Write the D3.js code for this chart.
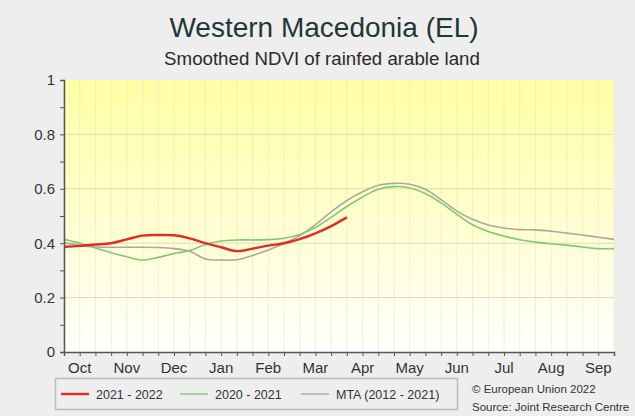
<!DOCTYPE html>
<html><head><meta charset="utf-8">
<script src="https://cdn.jsdelivr.net/npm/d3@7"></script>
<style>
html,body{margin:0;padding:0;background:#eeeeee;}
svg{display:block;font-family:"Liberation Sans",Arial,sans-serif;}
</style></head>
<body>
<svg id="chart" width="635" height="416"></svg>
<script>
const months = ["Oct","Nov","Dec","Jan","Feb","Mar","Apr","May","Jun","Jul","Aug","Sep"];
const yTicks = [0,0.2,0.4,0.6,0.8,1];
const s2122 = [0.387,0.390,0.395,0.400,0.414,0.428,0.430,0.429,0.418,0.400,0.385,0.371,0.380,0.391,0.400,0.415,0.436,0.463,0.495];
const s2021 = [0.414,0.400,0.382,0.365,0.350,0.338,0.348,0.362,0.373,0.395,0.408,0.412,0.412,0.413,0.418,0.432,0.458,0.495,0.535,0.570,0.598,0.608,0.603,0.583,0.548,0.506,0.468,0.443,0.426,0.413,0.404,0.398,0.393,0.386,0.380,0.380];
const mta = [0.402,0.392,0.386,0.385,0.385,0.385,0.384,0.380,0.370,0.342,0.338,0.339,0.355,0.375,0.400,0.428,0.468,0.515,0.557,0.589,0.613,0.620,0.617,0.598,0.560,0.518,0.488,0.467,0.456,0.450,0.449,0.444,0.437,0.430,0.422,0.414];
const seriesNames = ["2021 - 2022","2020 - 2021","MTA (2012 - 2021)"];

const svg = d3.select("#chart");
const L = 64, R = 614, T = 80, B = 352;
const x = d3.scaleLinear().domain([0,35]).range([L,R]);
const y = d3.scaleLinear().domain([0,1]).range([B,T]);

const defs = svg.append("defs");
const g = defs.append("linearGradient").attr("id","bg").attr("x1",0).attr("y1",0).attr("x2",0).attr("y2",1);
g.append("stop").attr("offset","0%").attr("stop-color","#ffffa4");
g.append("stop").attr("offset","55%").attr("stop-color","#ffffd2");
g.append("stop").attr("offset","100%").attr("stop-color","#ffffff");
svg.append("rect").attr("x",L).attr("y",T).attr("width",R-L).attr("height",B-T).attr("fill","url(#bg)");

// grid
const dek = d3.range(0,36);
svg.append("g").selectAll("line").data(dek).join("line")
  .attr("x1",d=>x(d)).attr("x2",d=>x(d)).attr("y1",T).attr("y2",B)
  .attr("stroke","#e8e4c0").attr("stroke-opacity",0.6).attr("stroke-width",1);
svg.append("g").selectAll("line").data(yTicks.slice(1,-1)).join("line")
  .attr("x1",L).attr("x2",R).attr("y1",d=>y(d)).attr("y2",d=>y(d))
  .attr("stroke","#e0dcb8").attr("stroke-width",1);

// lines
const line = d3.line().x((d,i)=>x(i)).y(d=>y(d)).curve(d3.curveCatmullRom);
svg.append("path").datum(mta).attr("d",line).attr("fill","none").attr("stroke","#aaa8a0").attr("stroke-width",1.6);
svg.append("path").datum(s2021).attr("d",line).attr("fill","none").attr("stroke","#80c874").attr("stroke-width",1.6);
svg.append("path").datum(s2122).attr("d",line).attr("fill","none").attr("stroke","#e52a24").attr("stroke-width",2.4);

// y axis
const yAxis = d3.axisLeft(y).tickValues(d3.range(0,1.01,0.1)).tickSize(4)
  .tickFormat(d=>{const r=Math.round(d*10)/10; return (Math.round(r*10)%2===0)? d3.format("~g")(r):"";});
const ya = svg.append("g").attr("transform",`translate(${L},0)`).call(yAxis);
ya.select(".domain").attr("stroke","#555").attr("stroke-width",1.5);
ya.selectAll(".tick line").attr("stroke","#555");
ya.selectAll("text").attr("font-size",15).attr("fill","#333").attr("x",-9).attr("font-family","Liberation Sans, Arial, sans-serif");

// x axis
const xAxis = d3.axisBottom(x).tickValues(dek).tickSize(4).tickFormat("");
const xa = svg.append("g").attr("transform",`translate(0,${B})`).call(xAxis);
xa.select(".domain").attr("stroke","#555").attr("stroke-width",1.5);
xa.selectAll(".tick line").attr("stroke","#555");
svg.append("g").selectAll("text").data(months).join("text")
  .attr("x",(d,i)=>x(i*3+1)).attr("y",373).attr("text-anchor","middle")
  .attr("font-size",15).attr("fill","#333").text(d=>d);

// titles
svg.append("text").attr("x",324).attr("y",37).attr("text-anchor","middle")
  .attr("font-size",28).attr("fill","#1e3838").text("Western Macedonia (EL)");
svg.append("text").attr("x",322).attr("y",65).attr("text-anchor","middle")
  .attr("font-size",18.7).attr("fill","#2a2a2a").text("Smoothed NDVI of rainfed arable land");

// legend
svg.append("rect").attr("x",55.5).attr("y",378.5).attr("width",402).attr("height",31)
  .attr("fill","none").attr("stroke","#bbb").attr("stroke-width",1.5);
const legCol = ["#e52a24","#80c874","#aaa8a0"];
const legW = [2.4,1.4,1.4];
const legX = [61,180,301];
seriesNames.forEach((n,i)=>{
  svg.append("line").attr("x1",legX[i]).attr("x2",legX[i]+28).attr("y1",394).attr("y2",394)
    .attr("stroke",legCol[i]).attr("stroke-width",legW[i]);
  svg.append("text").attr("x",legX[i]+35).attr("y",398.5).attr("font-size",12.5).attr("fill","#333").text(n);
});
svg.append("text").attr("x",472).attr("y",393).attr("font-size",11.5).attr("fill","#333").text("© European Union 2022");
svg.append("text").attr("x",472).attr("y",411).attr("font-size",11.5).attr("fill","#333").text("Source: Joint Research Centre");
</script>
</body></html>
